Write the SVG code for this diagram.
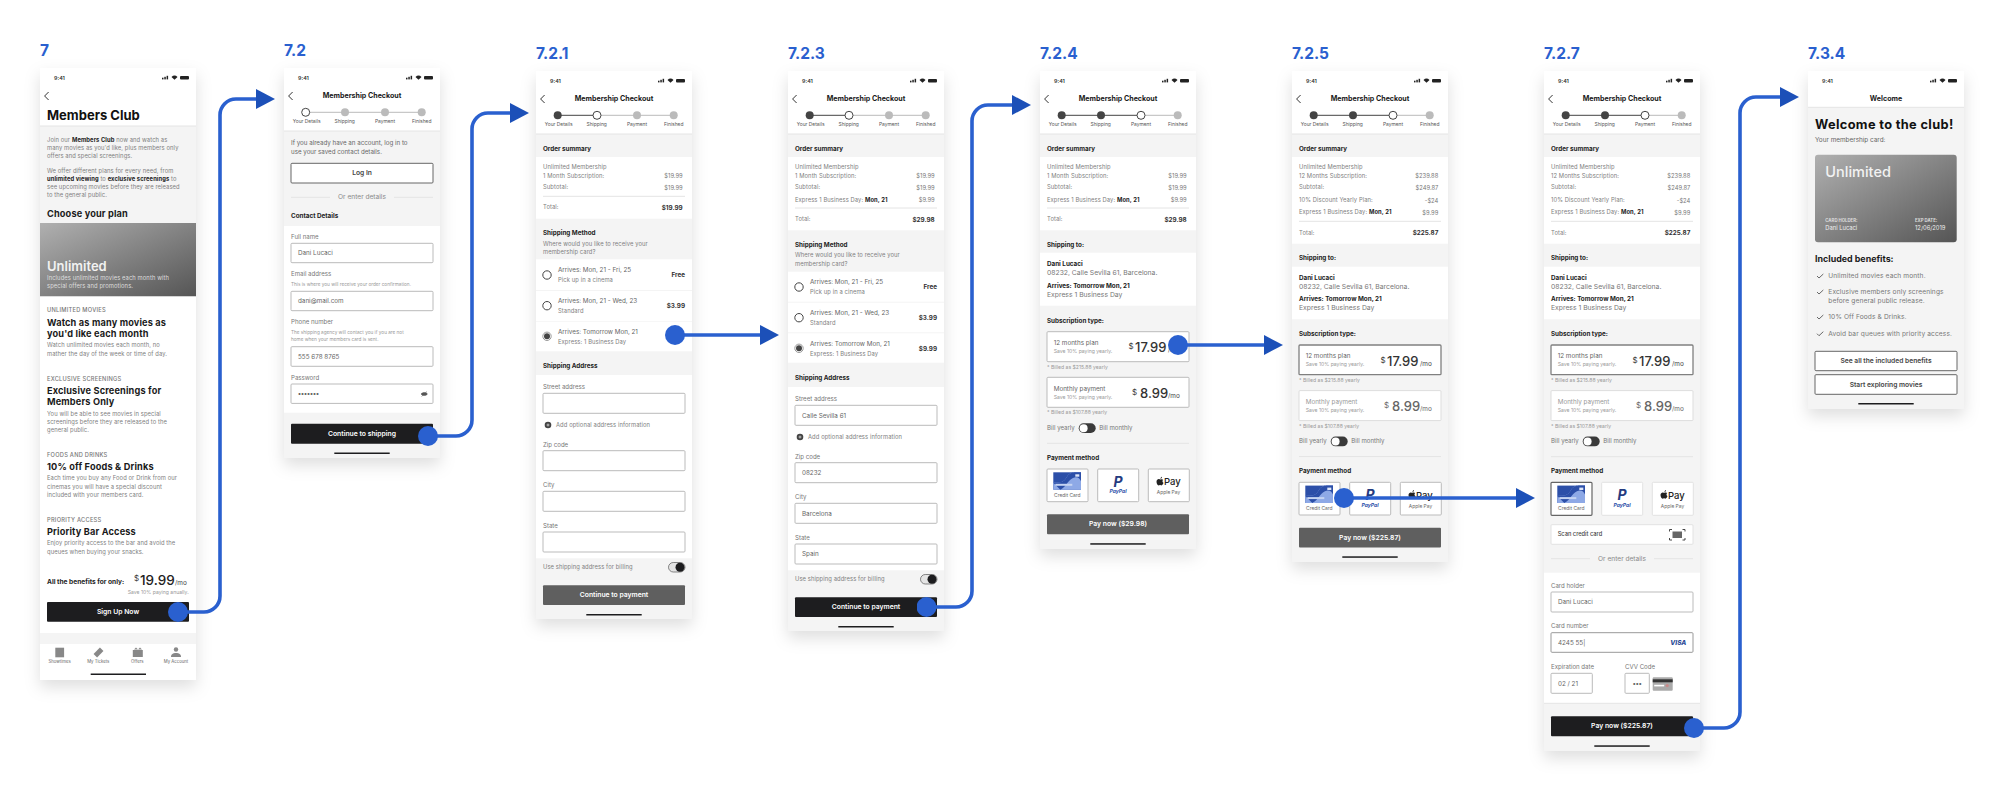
<svg xmlns="http://www.w3.org/2000/svg" width="2004" height="792" viewBox="0 0 2004 792">
<style>
text{font-family:Inter,"Liberation Sans",sans-serif;fill:#777;font-size:5.6px}
.lb{font-size:15.5px;font-weight:700;fill:#2a60cf}
.tm{font-size:5.4px;font-weight:600;fill:#333}
.ti{font-size:7.1px;font-weight:700;fill:#1a1a1a;text-anchor:middle}
.st{font-size:4.9px;fill:#555;text-anchor:middle}
.h{font-size:6.3px;font-weight:700;fill:#222}
.p{font-size:5.8px;fill:#808080;letter-spacing:.1px}
.pr{font-size:5.8px;fill:#777;text-anchor:end}
.prb{font-size:6.3px;font-weight:700;fill:#333;text-anchor:end}
.b{font-weight:700;fill:#222}
.fl{font-size:6.1px;fill:#777}
.in{font-size:6.3px;fill:#666}
.ad{font-size:6.8px;fill:#777}
.hi{font-size:4.7px;fill:#999}
.cap{font-size:5.7px;font-weight:500;fill:#777;letter-spacing:.25px}
.h2{font-size:9.2px;font-weight:700;fill:#1a1a1a;letter-spacing:.15px}
.btn{font-size:6.8px;font-weight:600;fill:#fff;text-anchor:middle}
.btnd{font-size:6.7px;font-weight:600;fill:#444;text-anchor:middle}
.sm{font-size:5.1px;fill:#999}
.tab{font-size:4.3px;fill:#666;text-anchor:middle}
.big{font-size:13px;font-weight:500;fill:#333}
.dl{font-size:8px;fill:#333}
.mo{font-size:6.4px;fill:#444}
.or{font-size:6.6px;fill:#888;text-anchor:middle}
.bn{font-size:6.6px;fill:#777;letter-spacing:.12px}
.cl{font-size:4.9px;fill:#666;text-anchor:middle}
.scr{fill:#f4f4f4;filter:url(#sh)}
.w{fill:#fff}
.i{fill:#fff;stroke:#bbb;stroke-width:1}
.sep{stroke:#e4e4e4;stroke-width:1}
.dark{fill:#1d1d1f}
.mid{fill:#5f5f5f}
.oline{fill:#fff;stroke:#666;stroke-width:1}
.home{fill:#1d1d1f}
.ln{stroke:#2a60cf;stroke-width:3.6;fill:none;marker-start:url(#dot);marker-end:url(#arrow)}
.rad{fill:#fff;stroke:#444;stroke-width:1}
.on{stroke:#444;stroke-width:1}
.off{stroke:#bbb;stroke-width:1}
</style>
<defs>
<filter id="sh" x="-30%" y="-10%" width="160%" height="120%"><feDropShadow dx="0" dy="7" stdDeviation="8" flood-color="#000" flood-opacity=".13"/></filter>
<linearGradient id="g" x1="0" y1="0" x2="1" y2="1"><stop offset="0" stop-color="#b0b0b0"/><stop offset="1" stop-color="#555"/></linearGradient>
<marker id="arrow" markerWidth="19" markerHeight="20" refX="1" refY="10" orient="auto" markerUnits="userSpaceOnUse"><path d="M0 0L19 10L0 20Z" fill="#1c50b8"/></marker>
<marker id="dot" markerWidth="20" markerHeight="20" refX="10" refY="10" orient="auto" markerUnits="userSpaceOnUse"><circle cx="10" cy="10" r="10" fill="#2a60cf"/></marker>
<g id="sb"><rect x="122" y="9.700" width="1.500" height="1.700" fill="#222"/><rect x="124.300" y="8.800" width="1.500" height="2.600" fill="#222"/><rect x="126.600" y="7.800" width="1.500" height="3.600" fill="#222"/><path d="M131.500 9a4.300 4.300 0 0 1 6 0l-3 2.700z" fill="#222"/><rect x="140" y="7.900" width="9" height="3.500" rx="1" fill="#222"/></g>
<path id="bk" d="M8.600 24L4.600 28L8.600 32" fill="none" stroke="#333" stroke-width="1"/>
<g id="cc"><rect x="0" y="0" width="27.700" height="17.400" fill="#2c4fa8"/><path d="M0 10.500C7 10 10 11 14 4C16 .5 20 0 22 0L27.700 0L27.700 17.400L0 17.400Z" fill="#8ea9e6"/><path d="M7 17.400C14 14 15 6 22 5C25 4.600 27 7 27.700 9L27.700 0L22 0C20 0 16 .5 14 4C10 11 7 10 0 10.500Z" fill="#2c4fa8"/><rect x="2" y="11.500" width="17" height="2" fill="#c6d4f2"/><rect x="22" y="2" width="4" height="2.400" fill="#dde6f8"/></g>
<g id="ap"><path d="M4 2.700C5 2.200 6 2.300 6.700 3C5.600 3.800 5.800 5.400 7 6C6.600 7.200 5.800 8.600 5 8.600C4.400 8.600 4.200 8.200 3.500 8.200C2.800 8.200 2.600 8.600 2 8.600C1 8.600 0 6.600 0 5C0 3 1.400 2.200 2.400 2.300C3 2.300 3.500 2.700 4 2.700ZM4 2.100C3.900 1.100 4.700 .2 5.500 0C5.600 1 4.800 2 4 2.100Z" fill="#222"/></g>
<g id="pk"><rect x="0" y="0" width="20" height="13.400" rx="1" fill="#aaa"/><rect x="0" y="2" width="20" height="3" fill="#333"/><rect x="1.500" y="7.500" width="10" height="1.600" fill="#fff"/><circle cx="14.500" cy="8.300" r="1.600" fill="#c98a8a"/></g>
</defs>
<rect width="2004" height="792" fill="#fff"/>

<g id="screen-7" transform="translate(40,68)">
<text class="lb" x="0" y="-12">7</text>
<rect class="scr" width="156" height="612"/>
<rect class="w" width="156" height="58"/>
<text class="tm" x="14" y="11.500">9:41</text><use href="#sb"/><use href="#bk"/>
<text x="7" y="52" style="font-size:13px;font-weight:700;fill:#111">Members Club</text>
<line class="sep" x1="0" y1="58" x2="156" y2="58"/>
<text class="p" x="7" y="74.300">Join our <tspan class="b">Members Club</tspan> now and watch as</text>
<text class="p" x="7" y="82.300">many movies as you'd like, plus members only</text>
<text class="p" x="7" y="90.300">offers and special screenings.</text>
<text class="p" x="7" y="104.700">We offer different plans for every need, from</text>
<text class="p" x="7" y="112.700"><tspan class="b">unlimited viewing</tspan> to <tspan class="b">exclusive screenings</tspan> to</text>
<text class="p" x="7" y="120.700">see upcoming movies before they are released</text>
<text class="p" x="7" y="128.700">to the general public.</text>
<text class="h2" x="7" y="149.300">Choose your plan</text>
<rect x="0" y="155" width="156" height="73.500" fill="url(#g)"/>
<text x="7" y="202.700" style="font-size:13px;font-weight:600;fill:#f2f2f2">Unlimited</text>
<text x="7" y="212" style="font-size:5.800px;letter-spacing:.1px;fill:#ddd">Includes unlimited movies each month with</text>
<text x="7" y="220" style="font-size:5.800px;letter-spacing:.1px;fill:#ddd">special offers and promotions.</text>
<rect class="w" x="0" y="228.500" width="156" height="383.500"/>
<text class="cap" x="7" y="244.300">UNLIMITED MOVIES</text>
<text class="h2" x="7" y="257.700">Watch as many movies as</text>
<text class="h2" x="7" y="269.300">you'd like each month</text>
<text class="p" x="7" y="279.300">Watch unlimited movies each month, no</text>
<text class="p" x="7" y="287.700">mather the day of the week or time of day.</text>
<text class="cap" x="7" y="312.700">EXCLUSIVE SCREENINGS</text>
<text class="h2" x="7" y="325.700">Exclusive Screenings for</text>
<text class="h2" x="7" y="337.300">Members Only</text>
<text class="p" x="7" y="347.700">You will be able to see movies in special</text>
<text class="p" x="7" y="356">screenings before they are released to the</text>
<text class="p" x="7" y="364.300">general public.</text>
<text class="cap" x="7" y="389">FOODS AND DRINKS</text>
<text class="h2" x="7" y="402">10% off Foods &amp; Drinks</text>
<text class="p" x="7" y="412.300">Each time you buy any Food or Drink from our</text>
<text class="p" x="7" y="420.700">cinemas you will have a special discount</text>
<text class="p" x="7" y="429">included with your members card.</text>
<text class="cap" x="7" y="453.700">PRIORITY ACCESS</text>
<text class="h2" x="7" y="467">Priority Bar Access</text>
<text class="p" x="7" y="477.300">Enjoy priority access to the bar and avoid the</text>
<text class="p" x="7" y="485.700">queues when buying your snacks.</text>
<text x="7" y="516" style="font-size:6.600px;font-weight:700;fill:#222">All the benefits for only:</text>
<text x="94" y="513" class="dl">$</text>
<text x="100" y="517.300" style="font-size:13.500px;font-weight:500;fill:#222">19.99</text>
<text x="135" y="517.300" class="mo">/mo</text>
<text x="148.700" y="525.700" class="sm" style="text-anchor:end">Save 10% paying anually.</text>
<rect class="dark" x="7" y="534" width="142" height="19.700" rx="1"/>
<text class="btn" x="78" y="546">Sign Up Now</text>
<rect class="w" x="0" y="563" width="156" height="2"/>
<rect fill="#f4f4f4" x="0" y="565" width="156" height="11"/>
<rect class="w" x="0" y="576" width="156" height="36"/>
<g fill="#888">
<rect x="15.300" y="579.700" width="8.800" height="9.600"/>
<rect x="54" y="582" width="9" height="5" transform="rotate(-45 58.500 584.500)"/>
<rect x="92.800" y="582" width="10" height="7"/><path d="M94 581.500l2-2 2 2 2-2 2 2z"/>
<circle cx="136" cy="581.500" r="2.200"/><path d="M131 589c0-3 2-4 5-4s5 1 5 4z"/>
</g>
<text class="tab" x="19.700" y="595">Showtimes</text>
<text class="tab" x="58.300" y="595">My Tickets</text>
<text class="tab" x="97.300" y="595">Offers</text>
<text class="tab" x="136" y="595">My Account</text>
<rect class="home" x="50.700" y="605.500" width="55.300" height="1.500"/>
</g>

<g id="screen-7-2" transform="translate(284,68)">
<text class="lb" x="0" y="-12">7.2</text>
<rect class="scr" width="156" height="390"/>
<rect class="w" width="156" height="63"/>
<text class="tm" x="14" y="11.500">9:41</text><use href="#sb"/><use href="#bk"/>
<text class="ti" x="78" y="29.700">Membership Checkout</text>
<line class="off" x1="21.700" y1="44.300" x2="137.700" y2="44.300"/>
<circle class="rad" cx="21.700" cy="44.300" r="4"/><circle cx="61" cy="44.300" r="4" fill="#bbb"/><circle cx="101" cy="44.300" r="4" fill="#bbb"/><circle cx="137.700" cy="44.300" r="4" fill="#bbb"/>
<text class="st" x="22.700" y="55">Your Details</text><text class="st" x="60.700" y="55">Shipping</text><text class="st" x="101" y="55">Payment</text><text class="st" x="137.700" y="55">Finished</text>
<line class="sep" x1="0" y1="63" x2="156" y2="63"/>
<text x="7" y="77" style="font-size:6.200px;fill:#666">If you already have an account, log in to</text>
<text x="7" y="86.300" style="font-size:6.200px;fill:#666">use your saved contact details.</text>
<rect class="oline" x="7" y="95.300" width="142" height="19.700" rx="1"/>
<text class="btnd" x="78" y="107.300">Log In</text>
<line class="sep" x1="7" y1="129.300" x2="46" y2="129.300"/><line class="sep" x1="110" y1="129.300" x2="149" y2="129.300"/>
<text class="or" x="78" y="131.300">Or enter details</text>
<text class="h" x="7" y="150">Contact Details</text>
<rect class="w" x="0" y="158" width="156" height="186.700"/>
<text class="fl" x="7" y="170.700">Full name</text>
<rect class="i" x="7" y="175.300" width="142" height="19.400" rx="1"/><text class="in" x="14" y="187.300">Dani Lucaci</text>
<text class="fl" x="7" y="208.300">Email address</text>
<text class="hi" x="7" y="217.700">This is where you will receive your order confirmation.</text>
<rect class="i" x="7" y="223.300" width="142" height="19.400" rx="1"/><text class="in" x="14" y="235.300">dani@mail.com</text>
<text class="fl" x="7" y="256.300">Phone number</text>
<text class="hi" x="7" y="265.700">The shipping agency will contact you if you are not</text>
<text class="hi" x="7" y="273.300">home when your members card is sent.</text>
<rect class="i" x="7" y="278.700" width="142" height="19.600" rx="1"/><text class="in" x="14" y="290.700">555 678 8765</text>
<text class="fl" x="7" y="311.700">Password</text>
<rect class="i" x="7" y="316" width="142" height="19.400" rx="1"/><text class="in" x="14" y="328" style="font-weight:700">•••••••</text>
<path d="M137 326c1.500-2 5-2 6.500 0c-1.500 2-5 2-6.500 0zM137.500 328.500L143 323.500" fill="#555" stroke="#555" stroke-width=".5"/>
<rect class="dark" x="7" y="355.700" width="142" height="20" rx="1"/>
<text class="btn" x="78" y="367.700">Continue to shipping</text>
<rect class="home" x="50.300" y="384.500" width="55.400" height="1.500"/>
</g>

<g id="screen-7-2-1" transform="translate(536,71)">
<text class="lb" x="0" y="-12">7.2.1</text>
<rect class="scr" width="156" height="548"/>
<rect class="w" width="156" height="63"/>
<text class="tm" x="14" y="11.500">9:41</text><use href="#sb"/><use href="#bk"/>
<text class="ti" x="78" y="29.700">Membership Checkout</text>
<line class="off" x1="61" y1="44.300" x2="137.700" y2="44.300"/><line class="on" x1="21.700" y1="44.300" x2="61" y2="44.300"/>
<circle cx="21.700" cy="44.300" r="4" fill="#444"/><circle class="rad" cx="61" cy="44.300" r="4"/><circle cx="101" cy="44.300" r="4" fill="#bbb"/><circle cx="137.700" cy="44.300" r="4" fill="#bbb"/>
<text class="st" x="22.700" y="55">Your Details</text><text class="st" x="60.700" y="55">Shipping</text><text class="st" x="101" y="55">Payment</text><text class="st" x="137.700" y="55">Finished</text>
<line class="sep" x1="0" y1="63" x2="156" y2="63"/>
<text class="h" x="7" y="80">Order summary</text>
<rect class="w" x="0" y="86" width="156" height="61.700"/>
<text class="p" x="7" y="98.300">Unlimited Membership</text>
<text class="p" x="7" y="106.700">1 Month Subscription:</text><text class="pr" x="146.700" y="106.700">$19.99</text>
<text class="p" x="7" y="118.300">Subtotal:</text><text class="pr" x="146.700" y="119">$19.99</text>
<line class="sep" x1="7" y1="125.300" x2="149" y2="125.300"/>
<text class="p" x="7" y="138.300">Total:</text><text class="prb" x="146.700" y="138.700">$19.99</text>
<text class="h" x="7" y="164.300">Shipping Method</text>
<text class="p" x="7" y="174.700">Where would you like to receive your</text>
<text class="p" x="7" y="183">membership card?</text>
<rect class="w" x="0" y="188.300" width="156" height="30.700"/>
<rect class="w" x="0" y="220" width="156" height="30"/>
<rect class="w" x="0" y="250.700" width="156" height="29.600"/>
<circle class="rad" cx="11" cy="204" r="4.200"/><circle class="rad" cx="11" cy="234.700" r="4.200"/>
<circle cx="11" cy="265.300" r="4.200" fill="#fff" stroke="#999"/><circle cx="11" cy="265.300" r="3" fill="#444"/>
<text class="in" x="22" y="201.300">Arrives: Mon, 21 - Fri, 25</text><text class="p" x="22" y="211.300">Pick up in a cinema</text><text class="prb" x="149" y="206.300">Free</text>
<text class="in" x="22" y="232">Arrives: Mon, 21 - Wed, 23</text><text class="p" x="22" y="242">Standard</text><text class="prb" x="149" y="237">$3.99</text>
<text class="in" x="22" y="262.700">Arrives: Tomorrow Mon, 21</text><text class="p" x="22" y="272.700">Express: 1 Business Day</text>
<text class="h" x="7" y="297.300">Shipping Address</text>
<rect class="w" x="0" y="304" width="156" height="183.300"/>
<text class="fl" x="7" y="318.300">Street address</text><rect class="i" x="7" y="322.300" width="142" height="20" rx="1"/>
<circle cx="12" cy="354" r="3.300" fill="#444"/><path d="M10.500 354h3M12 352.500v3" stroke="#fff" stroke-width=".6"/>
<text class="p" x="20" y="355.700">Add optional address information</text>
<text class="fl" x="7" y="375.700">Zip code</text><rect class="i" x="7" y="379.700" width="142" height="20" rx="1"/>
<text class="fl" x="7" y="416.300">City</text><rect class="i" x="7" y="420.300" width="142" height="20" rx="1"/>
<text class="fl" x="7" y="457">State</text><rect class="i" x="7" y="461" width="142" height="20" rx="1"/>
<text class="p" x="7" y="498">Use shipping address for billing</text>
<rect x="132.500" y="491.500" width="16.500" height="9.500" rx="4.750" fill="#e4e4e4" stroke="#555" stroke-width=".7"/><circle cx="144" cy="496.300" r="4.500" fill="#1d1d1f"/>
<rect class="mid" x="7" y="514.300" width="142" height="19.700" rx="1"/>
<text class="btn" x="78" y="526">Continue to payment</text>
<rect class="home" x="50.300" y="543" width="55.400" height="1.500"/>
</g>

<g id="screen-7-2-3" transform="translate(788,71)">
<text class="lb" x="0" y="-12">7.2.3</text>
<rect class="scr" width="156" height="560"/>
<rect class="w" width="156" height="63"/>
<text class="tm" x="14" y="11.500">9:41</text><use href="#sb"/><use href="#bk"/>
<text class="ti" x="78" y="29.700">Membership Checkout</text>
<line class="off" x1="61" y1="44.300" x2="137.700" y2="44.300"/><line class="on" x1="21.700" y1="44.300" x2="61" y2="44.300"/>
<circle cx="21.700" cy="44.300" r="4" fill="#444"/><circle class="rad" cx="61" cy="44.300" r="4"/><circle cx="101" cy="44.300" r="4" fill="#bbb"/><circle cx="137.700" cy="44.300" r="4" fill="#bbb"/>
<text class="st" x="22.700" y="55">Your Details</text><text class="st" x="60.700" y="55">Shipping</text><text class="st" x="101" y="55">Payment</text><text class="st" x="137.700" y="55">Finished</text>
<line class="sep" x1="0" y1="63" x2="156" y2="63"/>
<text class="h" x="7" y="80">Order summary</text>
<rect class="w" x="0" y="86" width="156" height="73.300"/>
<text class="p" x="7" y="98.300">Unlimited Membership</text>
<text class="p" x="7" y="106.700">1 Month Subscription:</text><text class="pr" x="146.700" y="106.700">$19.99</text>
<text class="p" x="7" y="118.300">Subtotal:</text><text class="pr" x="146.700" y="119">$19.99</text>
<text class="p" x="7" y="131">Express 1 Business Day: <tspan class="b">Mon, 21</tspan></text><text class="pr" x="146.700" y="131">$9.99</text>
<line class="sep" x1="7" y1="137" x2="149" y2="137"/>
<text class="p" x="7" y="150.300">Total:</text><text class="prb" x="146.700" y="150.700">$29.98</text>
<text class="h" x="7" y="176">Shipping Method</text>
<text class="p" x="7" y="186.300">Where would you like to receive your</text>
<text class="p" x="7" y="194.700">membership card?</text>
<rect class="w" x="0" y="200.700" width="156" height="30"/>
<rect class="w" x="0" y="231.700" width="156" height="29.600"/>
<rect class="w" x="0" y="262.300" width="156" height="29.400"/>
<circle class="rad" cx="11" cy="216" r="4.200"/><circle class="rad" cx="11" cy="246.700" r="4.200"/>
<circle cx="11" cy="277.300" r="4.200" fill="#fff" stroke="#999"/><circle cx="11" cy="277.300" r="3" fill="#444"/>
<text class="in" x="22" y="213.300">Arrives: Mon, 21 - Fri, 25</text><text class="p" x="22" y="223.300">Pick up in a cinema</text><text class="prb" x="149" y="218.300">Free</text>
<text class="in" x="22" y="244">Arrives: Mon, 21 - Wed, 23</text><text class="p" x="22" y="254">Standard</text><text class="prb" x="149" y="249">$3.99</text>
<text class="in" x="22" y="274.700">Arrives: Tomorrow Mon, 21</text><text class="p" x="22" y="284.700">Express: 1 Business Day</text><text class="prb" x="149" y="279.700">$9.99</text>
<text class="h" x="7" y="309.300">Shipping Address</text>
<rect class="w" x="0" y="316" width="156" height="183.300"/>
<text class="fl" x="7" y="330.300">Street address</text><rect class="i" x="7" y="334.300" width="142" height="20" rx="1"/><text class="in" x="14" y="346.500">Calle Sevilla 61</text>
<circle cx="12" cy="366" r="3.300" fill="#444"/><path d="M10.500 366h3M12 364.500v3" stroke="#fff" stroke-width=".6"/>
<text class="p" x="20" y="367.700">Add optional address information</text>
<text class="fl" x="7" y="387.700">Zip code</text><rect class="i" x="7" y="391.700" width="142" height="20" rx="1"/><text class="in" x="14" y="404">08232</text>
<text class="fl" x="7" y="428.300">City</text><rect class="i" x="7" y="432.300" width="142" height="20" rx="1"/><text class="in" x="14" y="444.500">Barcelona</text>
<text class="fl" x="7" y="469">State</text><rect class="i" x="7" y="473" width="142" height="20" rx="1"/><text class="in" x="14" y="485.200">Spain</text>
<text class="p" x="7" y="510">Use shipping address for billing</text>
<rect x="132.500" y="503.500" width="16.500" height="9.500" rx="4.750" fill="#e4e4e4" stroke="#555" stroke-width=".7"/><circle cx="144" cy="508.300" r="4.500" fill="#1d1d1f"/>
<rect class="dark" x="7" y="526.300" width="142" height="19.700" rx="1"/>
<text class="btn" x="78" y="538">Continue to payment</text>
<rect class="home" x="50.300" y="555" width="55.400" height="1.500"/>
</g>

<g id="screen-7-2-4" transform="translate(1040,71)">
<text class="lb" x="0" y="-12">7.2.4</text>
<rect class="scr" width="156" height="478"/>
<rect class="w" width="156" height="63"/>
<text class="tm" x="14" y="11.500">9:41</text><use href="#sb"/><use href="#bk"/>
<text class="ti" x="78" y="29.700">Membership Checkout</text>
<line class="off" x1="101" y1="44.300" x2="137.700" y2="44.300"/><line class="on" x1="21.700" y1="44.300" x2="101" y2="44.300"/>
<circle cx="21.700" cy="44.300" r="4" fill="#444"/><circle cx="61" cy="44.300" r="4" fill="#444"/><circle class="rad" cx="101" cy="44.300" r="4"/><circle cx="137.700" cy="44.300" r="4" fill="#bbb"/>
<text class="st" x="22.700" y="55">Your Details</text><text class="st" x="60.700" y="55">Shipping</text><text class="st" x="101" y="55">Payment</text><text class="st" x="137.700" y="55">Finished</text>
<line class="sep" x1="0" y1="63" x2="156" y2="63"/>
<text class="h" x="7" y="80">Order summary</text>
<rect class="w" x="0" y="86" width="156" height="73.300"/>
<text class="p" x="7" y="98.300">Unlimited Membership</text>
<text class="p" x="7" y="106.700">1 Month Subscription:</text><text class="pr" x="146.700" y="106.700">$19.99</text>
<text class="p" x="7" y="118.300">Subtotal:</text><text class="pr" x="146.700" y="119">$19.99</text>
<text class="p" x="7" y="131">Express 1 Business Day: <tspan class="b">Mon, 21</tspan></text><text class="pr" x="146.700" y="131">$9.99</text>
<line class="sep" x1="7" y1="137" x2="149" y2="137"/>
<text class="p" x="7" y="150.300">Total:</text><text class="prb" x="146.700" y="150.700">$29.98</text>
<text class="h" x="7" y="176">Shipping to:</text>
<rect class="w" x="0" y="181.700" width="156" height="53"/>
<text class="h" x="7" y="195">Dani Lucaci</text>
<text class="ad" x="7" y="204.300">08232, Calle Sevilla 61, Barcelona.</text>
<text class="h" x="7" y="216.700">Arrives: Tomorrow Mon, 21</text>
<text class="ad" x="7" y="226">Express 1 Business Day</text>
<text class="h" x="7" y="251.700">Subscription type:</text>
<rect class="i" x="7" y="260.700" width="142" height="30" rx="1"/>
<text class="in" x="13.700" y="274">12 months plan</text><text class="sm" x="13.700" y="282">Save 10% paying yearly.</text>
<text class="dl" x="88.500" y="278.300">$</text><text class="big" x="95" y="281.300">17.99</text><text class="mo" x="128" y="281.300">/mo</text>
<text class="sm" x="7" y="297.700">* Billed as $215.88 yearly</text>
<rect class="i" x="7" y="306.300" width="142" height="30" rx="1"/>
<text class="in" x="13.700" y="319.700">Monthly payment</text><text class="sm" x="13.700" y="327.700">Save 10% paying yearly.</text>
<text class="dl" x="92" y="324">$</text><text class="big" x="100" y="327">8.99</text><text class="mo" x="128" y="327">/mo</text>
<text class="sm" x="7" y="343.300">* Billed as $107.88 yearly</text>
<text class="fl" x="7" y="359">Bill yearly</text>
<rect x="38.700" y="352.300" width="17" height="9.700" rx="4.850" fill="#3a3a3a"/><circle cx="43.600" cy="357.150" r="4" fill="#fff"/>
<text class="fl" x="59.300" y="359">Bill monthly</text>
<line class="sep" x1="7" y1="372.300" x2="149" y2="372.300"/>
<text class="h" x="7" y="389">Payment method</text>
<rect class="i" x="7" y="398" width="41" height="32.700" rx="1"/><use href="#cc" x="13.300" y="401.300"/>
<text x="27.300" y="425.700" class="cl">Credit Card</text>
<rect class="i" x="57.700" y="398" width="41" height="32.700" rx="1"/>
<text x="78" y="415.500" style="font-size:14px;font-weight:700;font-style:italic;fill:#253b80;text-anchor:middle">P</text>
<text x="78" y="422.300" style="font-size:5px;font-weight:700;font-style:italic;fill:#2a4fa8;text-anchor:middle">PayPal</text>
<rect class="i" x="108.300" y="398" width="41" height="32.700" rx="1"/><use href="#ap" x="116.500" y="405.800"/>
<text x="124" y="414.300" style="font-size:9.500px;font-weight:500;fill:#222">Pay</text>
<text x="128.500" y="423.300" class="cl">Apple Pay</text>
<rect class="mid" x="7" y="443.300" width="142" height="20" rx="1"/>
<text class="btn" x="78" y="455.300">Pay now ($29.98)</text>
<rect class="home" x="50.300" y="472.200" width="55.400" height="1.500"/>
</g>

<g id="screen-7-2-5" transform="translate(1292,71)">
<text class="lb" x="0" y="-12">7.2.5</text>
<rect class="scr" width="156" height="491"/>
<rect class="w" width="156" height="63"/>
<text class="tm" x="14" y="11.500">9:41</text><use href="#sb"/><use href="#bk"/>
<text class="ti" x="78" y="29.700">Membership Checkout</text>
<line class="off" x1="101" y1="44.300" x2="137.700" y2="44.300"/><line class="on" x1="21.700" y1="44.300" x2="101" y2="44.300"/>
<circle cx="21.700" cy="44.300" r="4" fill="#444"/><circle cx="61" cy="44.300" r="4" fill="#444"/><circle class="rad" cx="101" cy="44.300" r="4"/><circle cx="137.700" cy="44.300" r="4" fill="#bbb"/>
<text class="st" x="22.700" y="55">Your Details</text><text class="st" x="60.700" y="55">Shipping</text><text class="st" x="101" y="55">Payment</text><text class="st" x="137.700" y="55">Finished</text>
<line class="sep" x1="0" y1="63" x2="156" y2="63"/>
<text class="h" x="7" y="80">Order summary</text>
<rect class="w" x="0" y="86" width="156" height="86.700"/>
<text class="p" x="7" y="98.300">Unlimited Membership</text>
<text class="p" x="7" y="107">12 Months Subscription:</text><text class="pr" x="146.300" y="107">$239.88</text>
<text class="p" x="7" y="118.300">Subtotal:</text><text class="pr" x="146.300" y="119.300">$249.87</text>
<text class="p" x="7" y="131">10% Discount Yearly Plan:</text><text class="pr" x="146.300" y="132">-$24</text>
<text class="p" x="7" y="143.300">Express 1 Business Day: <tspan class="b">Mon, 21</tspan></text><text class="pr" x="146.300" y="144.300">$9.99</text>
<line class="sep" x1="7" y1="150.300" x2="149" y2="150.300"/>
<text class="p" x="7" y="163.700">Total:</text><text class="prb" x="146.300" y="164">$225.87</text>
<text class="h" x="7" y="189.300">Shipping to:</text>
<rect class="w" x="0" y="195.700" width="156" height="52.600"/>
<text class="h" x="7" y="208.700">Dani Lucaci</text>
<text class="ad" x="7" y="217.700">08232, Calle Sevilla 61, Barcelona.</text>
<text class="h" x="7" y="230.300">Arrives: Tomorrow Mon, 21</text>
<text class="ad" x="7" y="239.300">Express 1 Business Day</text>
<text class="h" x="7" y="265.300">Subscription type:</text>
<rect x="7" y="274" width="142" height="29.700" rx="1" fill="#fff" stroke="#808080" stroke-width="1.300"/>
<text class="in" x="13.700" y="287.300">12 months plan</text><text class="sm" x="13.700" y="295">Save 10% paying yearly.</text>
<text class="dl" x="88.500" y="291.600">$</text><text class="big" x="95" y="294.600">17.99</text><text class="mo" x="128" y="294.600">/mo</text>
<text class="sm" x="7" y="311">* Billed as $215.88 yearly</text>
<rect x="7" y="319.600" width="142" height="30" rx="1" fill="#fff" stroke="#ddd"/>
<text class="in" x="13.700" y="333" style="fill:#999">Monthly payment</text><text class="sm" x="13.700" y="341">Save 10% paying yearly.</text>
<text class="dl" x="92" y="337.300" style="fill:#666">$</text><text class="big" x="100" y="340.300" style="fill:#666">8.99</text><text class="mo" x="128" y="340.300" style="fill:#666">/mo</text>
<text class="sm" x="7" y="356.600">* Billed as $107.88 yearly</text>
<text class="fl" x="7" y="372.300">Bill yearly</text>
<rect x="38.700" y="365.600" width="17" height="9.700" rx="4.850" fill="#3a3a3a"/><circle cx="43.600" cy="370.450" r="4" fill="#fff"/>
<text class="fl" x="59.300" y="372.300">Bill monthly</text>
<line class="sep" x1="7" y1="385.600" x2="149" y2="385.600"/>
<text class="h" x="7" y="402.300">Payment method</text>
<rect class="i" x="7" y="411.300" width="41" height="32.700" rx="1"/><use href="#cc" x="13.300" y="414.600"/>
<text x="27.300" y="439" class="cl">Credit Card</text>
<rect class="i" x="57.700" y="411.300" width="41" height="32.700" rx="1"/>
<text x="78" y="428.800" style="font-size:14px;font-weight:700;font-style:italic;fill:#253b80;text-anchor:middle">P</text>
<text x="78" y="435.600" style="font-size:5px;font-weight:700;font-style:italic;fill:#2a4fa8;text-anchor:middle">PayPal</text>
<rect class="i" x="108.300" y="411.300" width="41" height="32.700" rx="1"/><use href="#ap" x="116.500" y="419.100"/>
<text x="124" y="427.600" style="font-size:9.500px;font-weight:500;fill:#222">Pay</text>
<text x="128.500" y="436.600" class="cl">Apple Pay</text>
<rect class="mid" x="7" y="456.700" width="142" height="19.700" rx="1"/>
<text class="btn" x="78" y="468.600">Pay now ($225.87)</text>
<rect class="home" x="50.300" y="485.300" width="55.400" height="1.500"/>
</g>

<g id="screen-7-2-7" transform="translate(1544,71)">
<text class="lb" x="0" y="-12">7.2.7</text>
<rect class="scr" width="156" height="680"/>
<rect class="w" width="156" height="63"/>
<text class="tm" x="14" y="11.500">9:41</text><use href="#sb"/><use href="#bk"/>
<text class="ti" x="78" y="29.700">Membership Checkout</text>
<line class="off" x1="101" y1="44.300" x2="137.700" y2="44.300"/><line class="on" x1="21.700" y1="44.300" x2="101" y2="44.300"/>
<circle cx="21.700" cy="44.300" r="4" fill="#444"/><circle cx="61" cy="44.300" r="4" fill="#444"/><circle class="rad" cx="101" cy="44.300" r="4"/><circle cx="137.700" cy="44.300" r="4" fill="#bbb"/>
<text class="st" x="22.700" y="55">Your Details</text><text class="st" x="60.700" y="55">Shipping</text><text class="st" x="101" y="55">Payment</text><text class="st" x="137.700" y="55">Finished</text>
<line class="sep" x1="0" y1="63" x2="156" y2="63"/>
<text class="h" x="7" y="80">Order summary</text>
<rect class="w" x="0" y="86" width="156" height="86.700"/>
<text class="p" x="7" y="98.300">Unlimited Membership</text>
<text class="p" x="7" y="107">12 Months Subscription:</text><text class="pr" x="146.300" y="107">$239.88</text>
<text class="p" x="7" y="118.300">Subtotal:</text><text class="pr" x="146.300" y="119.300">$249.87</text>
<text class="p" x="7" y="131">10% Discount Yearly Plan:</text><text class="pr" x="146.300" y="132">-$24</text>
<text class="p" x="7" y="143.300">Express 1 Business Day: <tspan class="b">Mon, 21</tspan></text><text class="pr" x="146.300" y="144.300">$9.99</text>
<line class="sep" x1="7" y1="150.300" x2="149" y2="150.300"/>
<text class="p" x="7" y="163.700">Total:</text><text class="prb" x="146.300" y="164">$225.87</text>
<text class="h" x="7" y="189.300">Shipping to:</text>
<rect class="w" x="0" y="195.700" width="156" height="52.600"/>
<text class="h" x="7" y="208.700">Dani Lucaci</text>
<text class="ad" x="7" y="217.700">08232, Calle Sevilla 61, Barcelona.</text>
<text class="h" x="7" y="230.300">Arrives: Tomorrow Mon, 21</text>
<text class="ad" x="7" y="239.300">Express 1 Business Day</text>
<text class="h" x="7" y="265.300">Subscription type:</text>
<rect x="7" y="274" width="142" height="29.700" rx="1" fill="#fff" stroke="#808080" stroke-width="1.300"/>
<text class="in" x="13.700" y="287.300">12 months plan</text><text class="sm" x="13.700" y="295">Save 10% paying yearly.</text>
<text class="dl" x="88.500" y="291.600">$</text><text class="big" x="95" y="294.600">17.99</text><text class="mo" x="128" y="294.600">/mo</text>
<text class="sm" x="7" y="311">* Billed as $215.88 yearly</text>
<rect x="7" y="319.600" width="142" height="30" rx="1" fill="#fff" stroke="#ddd"/>
<text class="in" x="13.700" y="333" style="fill:#999">Monthly payment</text><text class="sm" x="13.700" y="341">Save 10% paying yearly.</text>
<text class="dl" x="92" y="337.300" style="fill:#666">$</text><text class="big" x="100" y="340.300" style="fill:#666">8.99</text><text class="mo" x="128" y="340.300" style="fill:#666">/mo</text>
<text class="sm" x="7" y="356.600">* Billed as $107.88 yearly</text>
<text class="fl" x="7" y="372.300">Bill yearly</text>
<rect x="38.700" y="365.600" width="17" height="9.700" rx="4.850" fill="#3a3a3a"/><circle cx="43.600" cy="370.450" r="4" fill="#fff"/>
<text class="fl" x="59.300" y="372.300">Bill monthly</text>
<line class="sep" x1="7" y1="385.700" x2="149" y2="385.700"/>
<text class="h" x="7" y="402.300">Payment method</text>
<rect x="7" y="411.300" width="41" height="33" rx="1" fill="#fff" stroke="#666" stroke-width="1.200"/><use href="#cc" x="13.300" y="414.600"/>
<text x="27.300" y="439" class="cl">Credit Card</text>
<rect x="57.700" y="411.300" width="41" height="33" rx="1" fill="#fff" stroke="#e2e2e2"/>
<text x="78" y="428.800" style="font-size:14px;font-weight:700;font-style:italic;fill:#253b80;text-anchor:middle">P</text>
<text x="78" y="435.600" style="font-size:5px;font-weight:700;font-style:italic;fill:#2a4fa8;text-anchor:middle">PayPal</text>
<rect x="108.300" y="411.300" width="41" height="33" rx="1" fill="#fff" stroke="#e2e2e2"/><use href="#ap" x="116.500" y="419.100"/>
<text x="124" y="427.600" style="font-size:9.500px;font-weight:500;fill:#222">Pay</text>
<text x="128.500" y="436.600" class="cl">Apple Pay</text>
<rect x="7" y="453.700" width="142" height="19.600" rx="1" fill="#fff" stroke="#e2e2e2"/>
<text x="13.700" y="465.300" style="font-size:5.700px;font-weight:500;fill:#444">Scan credit card</text>
<path d="M125.500 460.500v-2h2.500M138.500 458.500h2.500v2M141 467v2h-2.500M128 469h-2.500v-2" fill="none" stroke="#333" stroke-width=".9"/><rect x="128.500" y="460.500" width="9.500" height="6.500" fill="#666"/>
<line class="sep" x1="7" y1="487.700" x2="46" y2="487.700"/><line class="sep" x1="110" y1="487.700" x2="149" y2="487.700"/>
<text class="or" x="78" y="489.700">Or enter details</text>
<rect class="w" x="0" y="501.700" width="156" height="130.600"/>
<text class="fl" x="7" y="516.700">Card holder</text><rect class="i" x="7" y="521" width="142" height="20" rx="1"/><text class="in" x="14" y="533.300">Dani Lucaci</text>
<text class="fl" x="7" y="557.300">Card number</text><rect x="7" y="561.700" width="142" height="19.600" rx="1" fill="#fff" stroke="#999"/><text class="in" x="14" y="574">4245 55|</text>
<text x="142.300" y="574" style="font-size:6.500px;font-weight:800;font-style:italic;fill:#2a4a96;text-anchor:end">VISA</text>
<text class="fl" x="7" y="598">Expiration date</text><rect class="i" x="7" y="602.300" width="41.300" height="20" rx="1"/><text class="in" x="14" y="614.700">02 / 21</text>
<text class="fl" x="81" y="598">CVV Code</text><rect class="i" x="81" y="602.300" width="24.300" height="20" rx="1"/><text class="in" x="93.200" y="614.700" style="text-anchor:middle;font-weight:700">•••</text>
<use href="#pk" x="108.700" y="606.300"/>
<line class="sep" x1="0" y1="632.300" x2="156" y2="632.300"/>
<rect class="dark" x="7" y="645.300" width="142" height="20" rx="1"/>
<text class="btn" x="78" y="657.300">Pay now ($225.87)</text>
<rect class="home" x="50.300" y="674.300" width="55.400" height="1.500"/>
</g>

<g id="screen-7-3-4" transform="translate(1808,71)">
<text class="lb" x="0" y="-12">7.3.4</text>
<rect class="scr" width="156" height="338"/>
<rect class="w" width="156" height="36.300"/>
<text class="tm" x="14" y="11.500">9:41</text><use href="#sb"/>
<text class="ti" x="78" y="29.700">Welcome</text>
<line class="sep" x1="0" y1="36.300" x2="156" y2="36.300"/>
<text x="7" y="57.700" style="font-size:12.800px;font-weight:700;letter-spacing:.35px;fill:#111">Welcome to the club!</text>
<text x="7" y="71" style="font-size:6.400px;fill:#666">Your membership card:</text>
<rect x="7" y="83.700" width="141.700" height="87.600" rx="3" fill="url(#g)"/>
<text x="17.300" y="105.700" style="font-size:14.500px;font-weight:500;fill:#f2f2f2">Unlimited</text>
<text x="17.300" y="150.700" style="font-size:4.300px;font-weight:700;fill:#ddd">CARD HOLDER:</text>
<text x="107" y="150.700" style="font-size:4.300px;font-weight:700;fill:#ddd">EXP DATE:</text>
<text x="17.300" y="159" style="font-size:5.800px;fill:#eee">Dani Lucaci</text>
<text x="107" y="159" style="font-size:5.800px;fill:#eee">12/06/2019</text>
<text x="7" y="191" style="font-size:8.900px;font-weight:700;fill:#1a1a1a">Included benefits:</text>
<path d="M9 205l2 2 4.300-4M9 221l2 2 4.300-4M9 246l2 2 4.300-4M9 262.700l2 2 4.300-4" fill="none" stroke="#444" stroke-width=".8"/>
<text class="bn" x="20.300" y="207">Unlimited movies each month.</text>
<text class="bn" x="20.300" y="223">Exclusive members only screenings</text>
<text class="bn" x="20.300" y="232">before general public release.</text>
<text class="bn" x="20.300" y="248.300">10% Off Foods &amp; Drinks.</text>
<text class="bn" x="20.300" y="265">Avoid bar queues with priority access.</text>
<rect class="oline" x="7" y="280.300" width="142" height="19.400" rx="1"/><text class="btnd" x="78" y="292.300">See all the included benefits</text>
<rect class="oline" x="7" y="303.700" width="142" height="19.600" rx="1"/><text class="btnd" x="78" y="315.700">Start exploring movies</text>
<rect class="home" x="50.300" y="332" width="55.400" height="1.500"/>
</g>

<g id="connectors">
<path class="ln" d="M178 612H204A16 16 0 0 0 220 596V115A16 16 0 0 1 236 99H257"/>
<path class="ln" d="M428 436H456A16 16 0 0 0 472 420V129A16 16 0 0 1 488 113H511"/>
<path class="ln" d="M675 335H761"/>
<path class="ln" d="M926.500 607H956A16 16 0 0 0 972 591V121A16 16 0 0 1 988 105H1013"/>
<path class="ln" d="M1178 345H1265"/>
<path class="ln" d="M1344 498H1517"/>
<path class="ln" d="M1694 728H1724A16 16 0 0 0 1740 712V113A16 16 0 0 1 1756 97H1781"/>
</g>
</svg>
